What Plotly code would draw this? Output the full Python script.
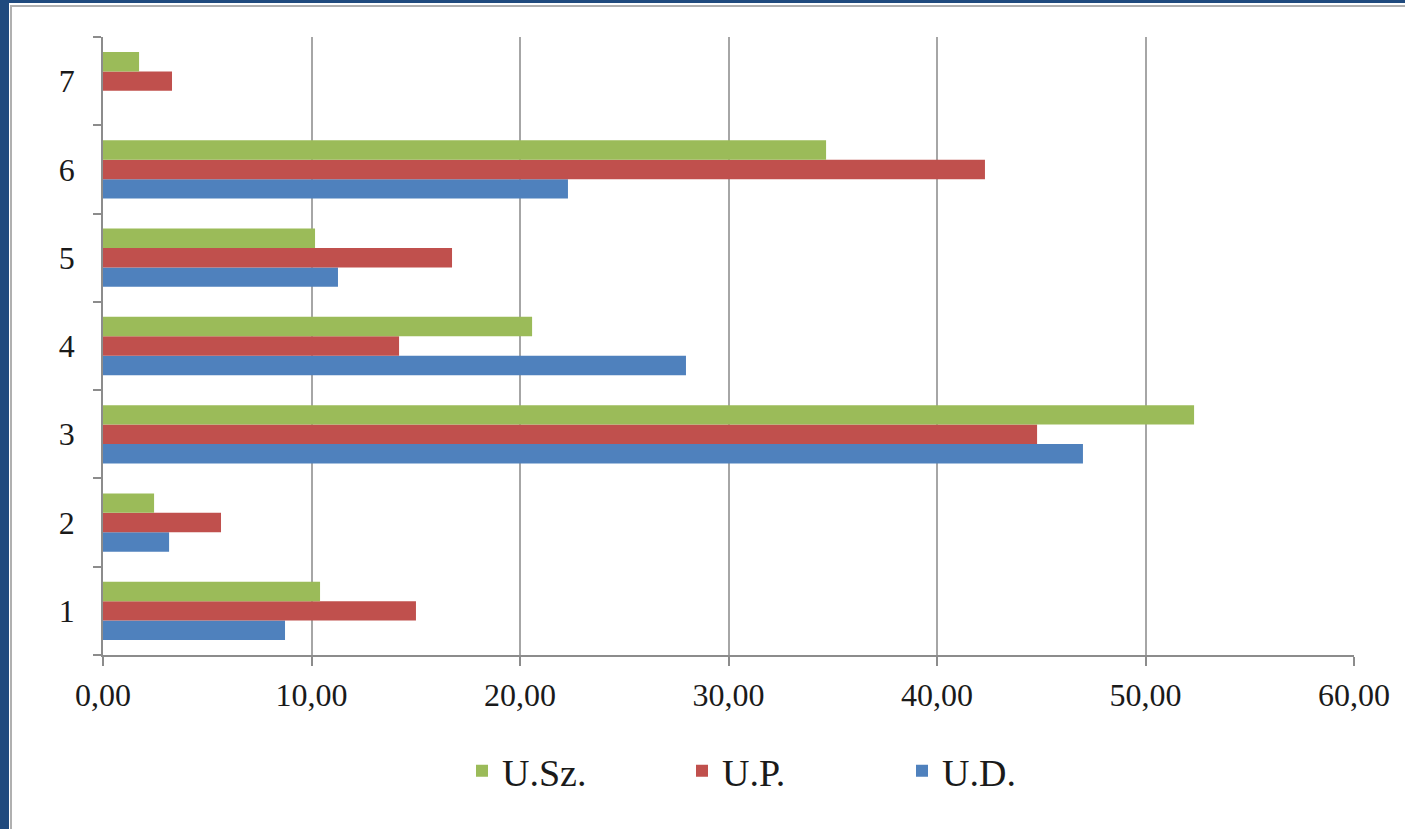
import plotly.graph_objects as go

categories = ["1", "2", "3", "4", "5", "6", "7"]
series_names = ["U.D.", "U.P.", "U.Sz."]
ud_values = [8.73, 3.17, 47.0, 27.96, 11.27, 22.3, 0.0]
up_values = [15.01, 5.66, 44.8, 14.2, 16.74, 42.3, 3.31]
usz_values = [10.41, 2.45, 52.33, 20.58, 10.17, 34.68, 1.73]
x_tick_values = [0, 10, 20, 30, 40, 50, 60]
colors = ["#4F81BD", "#C0504D", "#9BBB59"]

W, H = 1405, 829
L, R, T, B = 103, 51, 37, 174
pw, ph = W - L - R, H - T - B

def px(x):
    return (x - L) / pw

def py(y):
    return (H - B - y) / ph

fig = go.Figure()
for name, vals, col in zip(series_names, [ud_values, up_values, usz_values], colors):
    fig.add_trace(go.Bar(
        y=categories, x=vals, name=name, orientation="h",
        marker=dict(color=col, line=dict(width=0)),
    ))

font_family = "Liberation Serif"
axis_col = "#8c8c8c"

fig.update_layout(
    width=W, height=H,
    margin=dict(l=L, r=R, t=T, b=B, autoexpand=False),
    paper_bgcolor="white", plot_bgcolor="white",
    barmode="group", bargap=0.34, bargroupgap=0,
    separators=", ",
    font=dict(family=font_family, size=32, color="#1a1a1a"),
    showlegend=True,
    legend=dict(
        orientation="h", traceorder="reversed",
        x=px(462), xanchor="left", y=py(771), yanchor="middle",
        font=dict(family=font_family, size=38, color="#1a1a1a"),
        entrywidth=175, entrywidthmode="pixels",
        bgcolor="rgba(0,0,0,0)",
    ),
    xaxis=dict(
        range=[0, 60], tickvals=x_tick_values, tickformat=".2f",
        showgrid=True, gridcolor="#a6a6a6", gridwidth=1.5,
        showline=True, linecolor=axis_col, linewidth=1.5,
        ticks="outside", ticklen=9, tickcolor=axis_col, tickwidth=1.5,
        zeroline=False, fixedrange=True, ticklabelstandoff=2,
    ),
    yaxis=dict(
        type="category", tickson="boundaries",
        showgrid=False, showline=True, linecolor=axis_col, linewidth=1.5,
        ticks="outside", ticklen=8, tickcolor=axis_col, tickwidth=1.5,
        zeroline=False, fixedrange=True, ticklabelstandoff=20,
    ),
    shapes=[
        dict(type="rect", xref="paper", yref="paper",
             x0=px(-2), x1=px(9), y0=py(H + 2), y1=py(-2),
             fillcolor="#1F4A7E", line=dict(width=0), layer="above"),
        dict(type="rect", xref="paper", yref="paper",
             x0=px(-2), x1=px(W), y0=py(3), y1=py(-2),
             fillcolor="#1F4A7E", line=dict(width=0), layer="above"),
        dict(type="line", xref="paper", yref="paper",
             x0=px(11), x1=px(11), y0=py(H), y1=py(5),
             line=dict(color="#b0b0b0", width=2), layer="above"),
        dict(type="line", xref="paper", yref="paper",
             x0=px(11), x1=px(W), y0=py(6), y1=py(6),
             line=dict(color="#b0b0b0", width=2), layer="above"),
    ],
)

fig.write_html(
    "out.html",
    config={"displayModeBar": False},
    post_script="document.body.style.margin='0';document.body.style.overflow='hidden';",
)
